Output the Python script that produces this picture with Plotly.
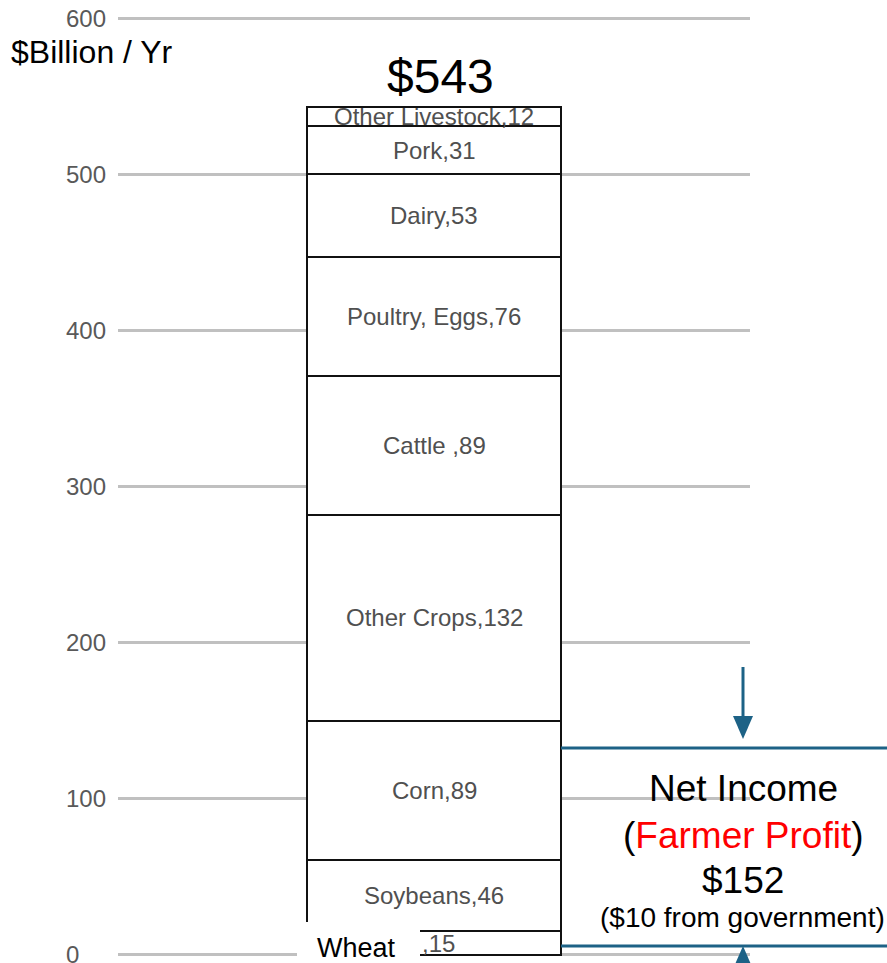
import plotly.graph_objects as go

categories = ["Wheat", "Soybeans", "Corn", "Other Crops", "Cattle ", "Poultry, Eggs", "Dairy", "Pork", "Other Livestock"]
values = [15, 46, 89, 132, 89, 76, 53, 31, 12]
tick_values = [0, 100, 200, 300, 400, 500, 600]
tick_labels = ["0", "100", "200", "300", "400", "500", "600"]
net_income = 152
gov_part = 10

BLUE = "#1d6286"
LABEL = "#505050"
FONT = "Liberation Sans, Arial, sans-serif"

# plot area in pixels: x 118..750; y range [-2, 602] spans 958..15
Y_TOP, Y_BOT = 15.0, 958.0


def px(p):
    return (p - 118) / 632


def py(p):
    return (Y_BOT - p) / (Y_BOT - Y_TOP)


fig = go.Figure()
for name, v in zip(categories, values):
    fig.add_trace(go.Bar(
        x=[0], y=[v], name=name, width=0.402,
        marker=dict(color="white", line=dict(color="#111111", width=2.5)),
        hoverinfo="skip", showlegend=False,
    ))

annotations = []
# y tick labels, left-aligned like the reference
for tv, tl in zip(tick_values, tick_labels):
    annotations.append(dict(x=px(64), xref="paper", y=tv, yref="y",
                            xanchor="left", yanchor="middle", text=tl, showarrow=False,
                            font=dict(size=24, color="#595959", family=FONT)))

cum = 0
for i, (name, v) in enumerate(zip(categories, values)):
    mid = cum + v / 2
    cum += v
    if i == 0:
        annotations.append(dict(x=px(420), xref="paper", y=mid, yref="y",
                                xanchor="left", yanchor="middle",
                                text=f",{v}", showarrow=False,
                                font=dict(size=24, color=LABEL, family=FONT)))
    else:
        annotations.append(dict(x=0, xref="x", y=mid, yref="y",
                                xanchor="center", yanchor="middle",
                                text=f"{name},{v}", showarrow=False,
                                font=dict(size=24, color=LABEL, family=FONT)))
total = cum

annotations.append(dict(x=px(441), xref="paper", y=total, yref="y",
                        xanchor="center", yanchor="bottom", yshift=2,
                        text=f"${total}", showarrow=False,
                        font=dict(size=48, color="black", family=FONT)))
annotations.append(dict(x=px(9), xref="paper", y=py(52), yref="paper",
                        xanchor="left", yanchor="middle",
                        text="$Billion / Yr", showarrow=False,
                        font=dict(size=32, color="black", family=FONT)))
# Wheat label on white box
annotations.append(dict(x=px(356), xref="paper", y=py(948), yref="paper",
                        xanchor="center", yanchor="middle",
                        text=categories[0], showarrow=False,
                        font=dict(size=27, color="black", family=FONT)))

cx = px(743)
annotations += [
    dict(x=cx, xref="paper", y=py(788), yref="paper", xanchor="center", yanchor="middle",
         text="Net Income", showarrow=False,
         font=dict(size=37, color="black", family=FONT)),
    dict(x=cx, xref="paper", y=py(835), yref="paper", xanchor="center", yanchor="middle",
         text="(<span style='color:#ff0000'>Farmer Profit</span>)", showarrow=False,
         font=dict(size=37, color="black", family=FONT)),
    dict(x=cx, xref="paper", y=py(880), yref="paper", xanchor="center", yanchor="middle",
         text=f"${net_income}", showarrow=False,
         font=dict(size=37, color="black", family=FONT)),
    dict(x=px(742), xref="paper", y=py(917), yref="paper", xanchor="center", yanchor="middle",
         text=f"(${gov_part} from government)", showarrow=False,
         font=dict(size=28, color="black", family=FONT)),
]

shapes = [
    # white box behind Wheat label
    dict(type="rect", xref="paper", yref="paper", x0=px(297), x1=px(420), y0=py(967), y1=py(922),
         fillcolor="white", line=dict(width=0), layer="above"),
    # net income bracket lines
    dict(type="line", xref="paper", yref="paper", x0=px(561), x1=px(890), y0=py(748), y1=py(748),
         line=dict(color=BLUE, width=3), layer="above"),
    dict(type="line", xref="paper", yref="paper", x0=px(561), x1=px(890), y0=py(946), y1=py(946),
         line=dict(color=BLUE, width=3), layer="above"),
    # down arrow
    dict(type="line", xref="paper", yref="paper", x0=cx, x1=cx, y0=py(667), y1=py(720),
         line=dict(color=BLUE, width=3), layer="above"),
    dict(type="path", xref="paper", yref="paper",
         path=f"M {px(733)} {py(716)} L {px(753)} {py(716)} L {cx} {py(739)} Z",
         fillcolor=BLUE, line=dict(width=0), layer="above"),
    # up arrow (cut off at bottom)
    dict(type="path", xref="paper", yref="paper",
         path=f"M {px(733)} {py(969)} L {px(753)} {py(969)} L {cx} {py(946)} Z",
         fillcolor=BLUE, line=dict(width=0), layer="above"),
]

fig.update_layout(
    barmode="stack",
    width=887, height=963,
    margin=dict(l=118, r=137, t=15, b=5, autoexpand=False),
    paper_bgcolor="white", plot_bgcolor="white",
    xaxis=dict(range=[-0.5, 0.5], visible=False),
    yaxis=dict(range=[-2, 602], tickvals=tick_values, showgrid=True, gridcolor="#c0c0c0",
               gridwidth=2.5, zeroline=False, showline=False, ticks="",
               showticklabels=False, automargin=False),
    annotations=annotations,
    shapes=shapes,
    bargap=0,
)

# remove the page's default body margin so the figure fills the window exactly
fig.write_html("out.html", config={"displayModeBar": False},
               post_script="document.body.style.margin='0';document.body.style.overflow='hidden';")
